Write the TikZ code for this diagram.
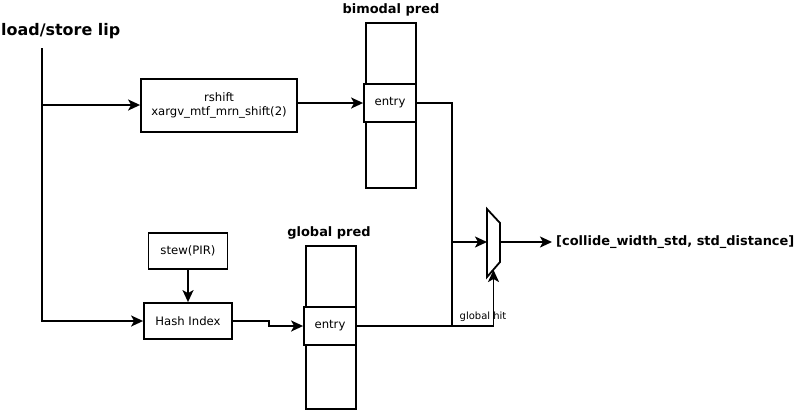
\documentclass[tikz,border=0pt]{standalone}
\usepackage{fontspec}
\setmainfont{DejaVu Sans}
\usetikzlibrary{arrows.meta}
\begin{document}
\begin{tikzpicture}[x = 1bp, y = -1bp, line width = 1.8bp, > = {Stealth[length = 12bp, width = 11bp, inset = 3bp]},
	box/.style = {draw, fill = white, align = center, inner sep = 0pt, font = \fontsize{11.7}{14}\selectfont},
	column/.style = {draw, minimum width = 50bp, inner sep = 0pt},
	title/.style = {font = \bfseries\fontsize{13}{15}\selectfont}]
	\useasboundingbox ( 0, 0 ) rectangle ( 796, 413 );
	\node[anchor = west, font = \bfseries\fontsize{16}{19}\selectfont] (lip) at ( -3, 31 ) {load/store lip};
	\coordinate (lipbot) at ( 42, 48 );
	\coordinate (split) at ( 42, 105 );
	\node[box, minimum width = 156bp, minimum height = 53bp] (rshift) at ( 219, 105.5 ) {rshift\\xargv\_mtf\_mrn\_shift(2)};
	\node[column, minimum height = 165bp] (bimodal) at ( 391, 105.5 ) {};
	\node[box, minimum width = 52bp, minimum height = 38bp] (bentry) at ( 390, 103 ) {entry};
	\node[title] at ( 391, 10 ) {bimodal pred};
	\node[column, minimum height = 163bp] (global) at ( 331, 327.5 ) {};
	\node[box, minimum width = 52bp, minimum height = 38bp] (gentry) at ( 330, 326 ) {entry};
	\node[title] at ( 329, 233 ) {global pred};
	\node[box, minimum width = 79bp, minimum height = 36bp] (stew) at ( 188, 251 ) {stew(PIR)};
	\node[box, minimum width = 88bp, minimum height = 36bp] (hash) at ( 188, 321 ) {Hash Index};
	\coordinate (mux1) at ( 487, 209 );
	\coordinate (mux2) at ( 500, 223 );
	\coordinate (mux3) at ( 500, 262 );
	\coordinate (mux4) at ( 487, 277 );
	\coordinate (muxin) at ( 487, 242 );
	\coordinate (muxout) at ( 500, 242 );
	\coordinate (muxsel) at ( 493.5, 270 );
	\coordinate (join) at ( 452, 326 );
	\draw (mux1) -- (mux2) -- (mux3) -- (mux4) -- cycle;
	\node[anchor = west, font = \bfseries\fontsize{13}{15}\selectfont] (result) at ( 552, 242 ) {[collide\_width\_std, std\_distance]};
	\draw[->] (lipbot) |- (hash);
	\draw[->] (split) -- (rshift.west |- split);
	\draw[->] (rshift.east |- bentry) -- (bentry);
	\draw[->] (stew) -- (hash);
	\draw[->] (hash.east) -- ++( 36, 0 ) |- (gentry.west);
	\draw (bentry.east) -| (join);
	\draw[->] (join |- muxin) -- (muxin);
	\draw[->] (gentry.east) -| (muxsel);
	\draw[->] (muxout) -- (result.west);
	\node[font = \fontsize{10}{12}\selectfont] at ( 483, 317 ) {global hit};
\end{tikzpicture}
\end{document}
